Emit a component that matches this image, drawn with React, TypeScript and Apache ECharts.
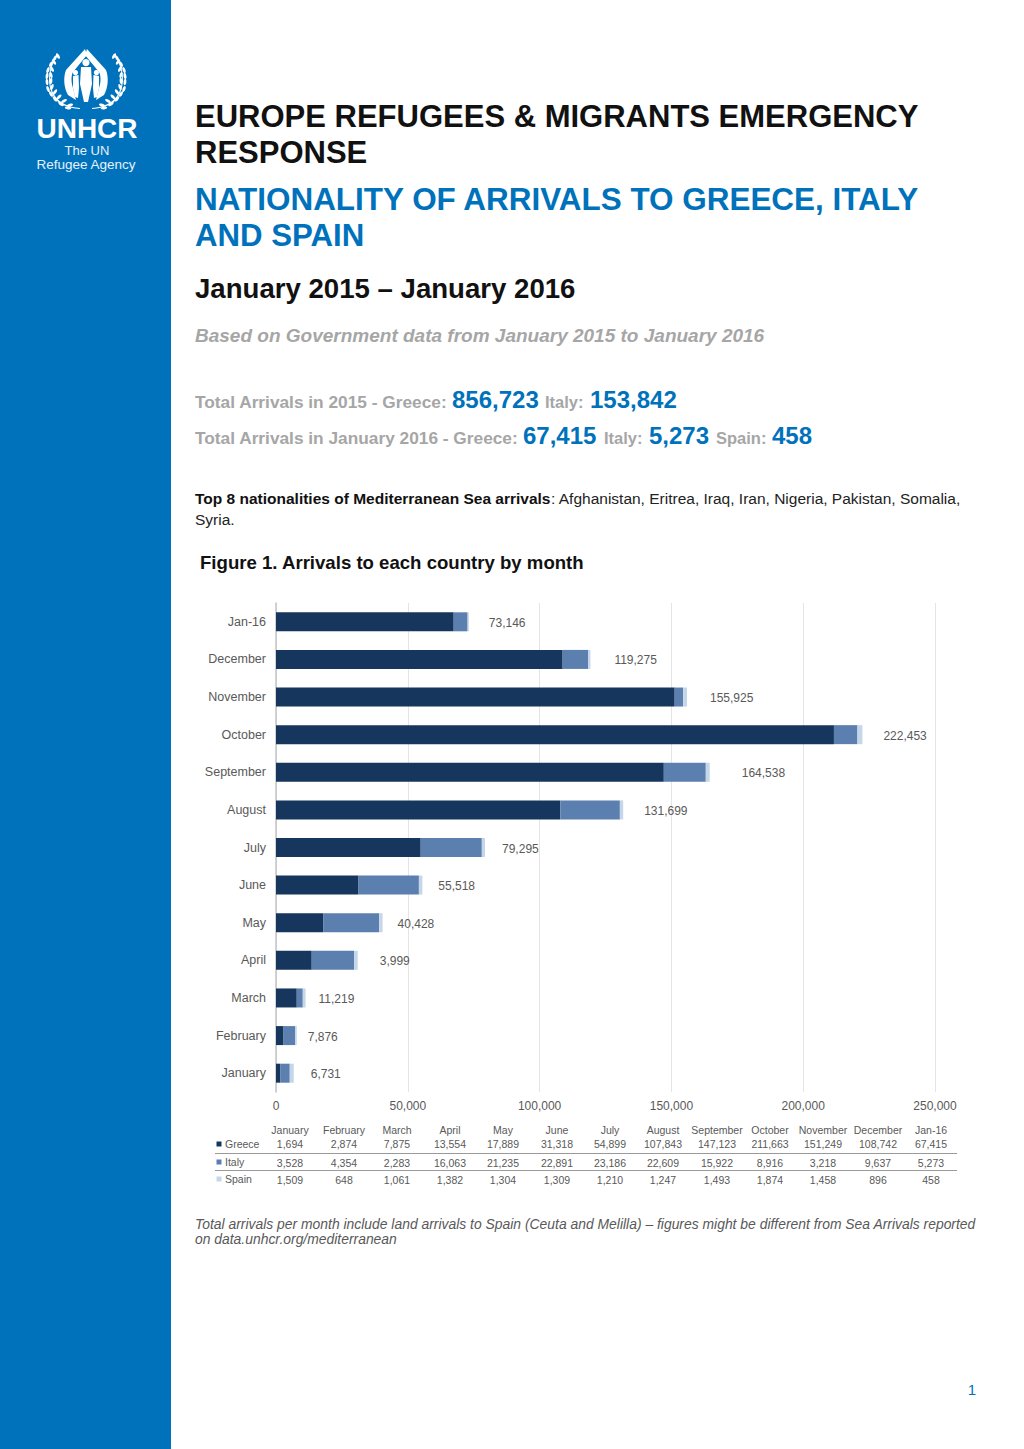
import React, { useEffect, useRef } from "react";
import * as echarts from "echarts";

const months = ["January","February","March","April","May","June","July","August","September","October","November","December","Jan-16"];
const greece = [1694,2874,7875,13554,17889,31318,54899,107843,147123,211663,151249,108742,67415];
const italy = [3528,4354,2283,16063,21235,22891,23186,22609,15922,8916,3218,9637,5273];
const spain = [1509,648,1061,1382,1304,1309,1210,1247,1493,1874,1458,896,458];
const totals = ["6,731","7,876","11,219","3,999","40,428","55,518","79,295","131,699","164,538","222,453","155,925","119,275","73,146"];
const xTicks = [0,50000,100000,150000,200000,250000];
const tableColumns = [290,344,397,450,503,557,610,663,717,770,823,878,931];
const labelGaps = [17,11,13,22,15,16,17,21,32,21,23,24,20];

const BLUE = "#0072BC";
const DARK = "#17365D";
const MID = "#5B7FAE";
const LIGHT = "#C6D6E9";
const GREY = "#595959";
const FONT = "'Liberation Sans', Arial, sans-serif";

const fmt = (n: number) => n.toLocaleString("en-US");

const wingLeft = "M85 49 L66 70 C63 78 64 88 68 95 L76 100 L73 88 C71 82 71 76 73 72 L87 55 Z";
const wingRight = "M87 49 L106 70 C109 78 108 88 104 95 L96 100 L99 88 C101 82 101 76 99 72 L85 55 Z";
const figures = "M86 59 A3.6 3.6 0 1 1 85.9 59 Z M81 67 L91 67 L92 84 L88 102 L84 102 L80 84 Z M75.5 70 A2.6 2.6 0 1 1 75.4 70 Z M73 76 L78.5 75 L79 88 L78 98 L75 97 L73 88 Z M96.5 70 A2.6 2.6 0 1 1 96.4 70 Z M93.5 75 L99 76 L99 88 L97 97 L94 98 L93 88 Z";
const laurelStem = "M58 54 C49 68 47 84 55 96 C60 103 68 107 80 108 L80 109 C67 108 58 104 54 97 C46 84 48 68 57 54 Z";
echarts.graphic.registerShape("unhcrWingL", echarts.graphic.extendPath(wingLeft, {}) as any);
echarts.graphic.registerShape("unhcrWingR", echarts.graphic.extendPath(wingRight, {}) as any);
echarts.graphic.registerShape("unhcrFigures", echarts.graphic.extendPath(figures, {}) as any);
echarts.graphic.registerShape("unhcrStem", echarts.graphic.extendPath(laurelStem, {}) as any);

const laurelPoints: [number, number, number][] = [
  [58,56,-60],[55,58,60],[54,62,-55],[51,64,60],[52,69,-60],[48,70,70],[51,75,-75],[47,76,80],[51,81,-95],[47,82,95],[52,87,-110],[48,89,110],[55,92,-125],[51,94,120],[59,97,-135],[55,99,130],[64,101,-150],[61,104,145],[70,105,-165],[68,108,170],
];

function txt(x: number, y: number, text: string, size: number, fill: string, opts: any = {}) {
  return {
    type: "text", x, y, silent: true,
    style: { text, fontSize: size, fill, fontFamily: FONT, fontWeight: opts.bold ? "bold" : "normal", fontStyle: opts.italic ? "italic" : "normal", align: opts.align || "left", verticalAlign: "middle" },
  };
}

function logo() {
  const out: any[] = [
    { type: "unhcrWingL", style: { fill: "#fff" } },
    { type: "unhcrWingR", style: { fill: "#fff" } },
    { type: "unhcrFigures", style: { fill: "#fff" } },
    { type: "unhcrStem", style: { fill: "#fff" } },
    { type: "unhcrStem", x: 172, scaleX: -1, style: { fill: "#fff" } },
  ];
  laurelPoints.forEach(([x, y, r]) => {
    const rad = (r * Math.PI) / 180;
    out.push({ type: "ellipse", x, y, rotation: rad, shape: { cx: 0, cy: 0, rx: 3.2, ry: 1.4 }, style: { fill: "#fff" } });
    out.push({ type: "ellipse", x: 172 - x, y, rotation: -rad, shape: { cx: 0, cy: 0, rx: 3.2, ry: 1.4 }, style: { fill: "#fff" } });
  });
  out.push(txt(87, 128.3, "UNHCR", 28, "#fff", { bold: true, align: "center" }));
  out.push(txt(87, 150, "The UN", 13, "#E6F1F8", { align: "center" }));
  out.push(txt(86, 164, "Refugee Agency", 13.5, "#E6F1F8", { align: "center" }));
  return out;
}

function table() {
  const out: any[] = [];
  const rows = [
    { name: "Greece", y: 1144, values: greece, color: DARK },
    { name: "Italy", y: 1162, values: italy, color: MID },
    { name: "Spain", y: 1179, values: spain, color: LIGHT },
  ];
  months.forEach((m, i) => out.push(txt(tableColumns[i], 1130, m, 10.5, GREY, { align: "center" })));
  rows.forEach((r) => {
    out.push({ type: "rect", shape: { x: 216.5, y: r.y - 2.5, width: 5, height: 5 }, style: { fill: r.color } });
    out.push(txt(225, r.y - 0.5, r.name, 10.5, GREY));
    r.values.forEach((v, i) => out.push(txt(tableColumns[i], r.y + (r.name === "Greece" ? 0 : 1), fmt(v), 10.5, GREY, { align: "center" })));
  });
  [1153.5, 1170.5].forEach((y) =>
    out.push({ type: "line", shape: { x1: 215, y1: y, x2: 957, y2: y }, style: { stroke: "#9a9a9a", lineWidth: 1 } })
  );
  return out;
}

function pageText() {
  const sub = "#A6A6A6";
  return [
    txt(195, 116, "EUROPE REFUGEES & MIGRANTS EMERGENCY", 31, "#111", { bold: true }),
    txt(195, 152, "RESPONSE", 31, "#111", { bold: true }),
    txt(195, 199, "NATIONALITY OF ARRIVALS TO GREECE, ITALY", 31.45, BLUE, { bold: true }),
    txt(195, 235, "AND SPAIN", 31.2, BLUE, { bold: true }),
    txt(195, 288.2, "January 2015 – January 2016", 27.6, "#111", { bold: true }),
    txt(195, 335.2, "Based on Government data from January 2015 to January 2016", 19, sub, { bold: true, italic: true }),
    txt(195, 401.5, "Total Arrivals in 2015 - Greece:", 17.3, sub, { bold: true }),
    txt(452, 399.5, "856,723", 24, BLUE, { bold: true }),
    txt(545, 402, "Italy:", 16.5, sub, { bold: true }),
    txt(590, 399.5, "153,842", 24, BLUE, { bold: true }),
    txt(195, 437.5, "Total Arrivals in January 2016 - Greece:", 17.3, sub, { bold: true }),
    txt(523, 435.5, "67,415", 24, BLUE, { bold: true }),
    txt(604, 438, "Italy:", 16.5, sub, { bold: true }),
    txt(649, 435.5, "5,273", 24, BLUE, { bold: true }),
    txt(716, 438, "Spain:", 16.5, sub, { bold: true }),
    txt(772, 435.5, "458", 24, BLUE, { bold: true }),
    txt(195, 498.2, "Top 8 nationalities of Mediterranean Sea arrivals", 15.5, "#111", { bold: true }),
    txt(551, 498.2, ": Afghanistan, Eritrea, Iraq, Iran, Nigeria, Pakistan, Somalia,", 15.5, "#222"),
    txt(195, 519.2, "Syria.", 15.5, "#222"),
    txt(200, 562.2, "Figure 1. Arrivals to each country by month", 18.6, "#111", { bold: true }),
    txt(195, 1224, "Total arrivals per month include land arrivals to Spain (Ceuta and Melilla) – figures might be different from Sea Arrivals reported", 13.9, GREY, { italic: true }),
    txt(195, 1239, "on data.unhcr.org/mediterranean", 13.9, GREY, { italic: true }),
    txt(972, 1389, "1", 15, BLUE, { align: "center" }),
  ];
}

export default function App() {
  const ref = useRef<HTMLDivElement>(null);
  useEffect(() => {
    document.body.style.margin = "0";
    const chart = echarts.init(ref.current!, undefined, { renderer: "svg" });
    chart.setOption({
      animation: false,
      backgroundColor: "#fff",
      grid: { left: 276, right: 1024 - 935, top: 603, bottom: 1449 - 1092, containLabel: false },
      xAxis: {
        type: "value", min: 0, max: 250000, interval: 50000,
        axisLine: { show: false }, axisTick: { show: false },
        splitLine: { lineStyle: { color: "#E4E4E4", width: 1 } },
        axisLabel: { color: GREY, fontSize: 12, fontFamily: FONT, margin: 8, formatter: (v: number) => (xTicks.includes(v) ? fmt(v) : "") },
      },
      yAxis: {
        type: "category", data: months,
        axisLine: { show: true, lineStyle: { color: "#C4C4C4", width: 1.5 } },
        axisTick: { show: false },
        axisLabel: { color: GREY, fontSize: 12.5, fontFamily: FONT, margin: 10 },
      },
      series: [
        { name: "Greece", type: "bar", stack: "a", barWidth: 19, data: greece, itemStyle: { color: DARK } },
        { name: "Italy", type: "bar", stack: "a", barWidth: 19, data: italy, itemStyle: { color: MID } },
        {
          name: "Spain", type: "bar", stack: "a", barWidth: 19, itemStyle: { color: LIGHT },
          data: spain.map((v, i) => ({
            value: v,
            label: { show: true, position: "right", distance: labelGaps[i], formatter: totals[i], color: GREY, fontSize: 12, fontFamily: FONT, offset: [0, 1] },
          })),
        },
      ],
      graphic: { elements: [
        { type: "rect", shape: { x: 0, y: 0, width: 171, height: 1449 }, style: { fill: BLUE }, z: -1 },
        ...logo(), ...pageText(), ...table(),
      ] },
    });
    return () => chart.dispose();
  }, []);
  return <div ref={ref} style={{ width: 1024, height: 1449 }} />;
}
